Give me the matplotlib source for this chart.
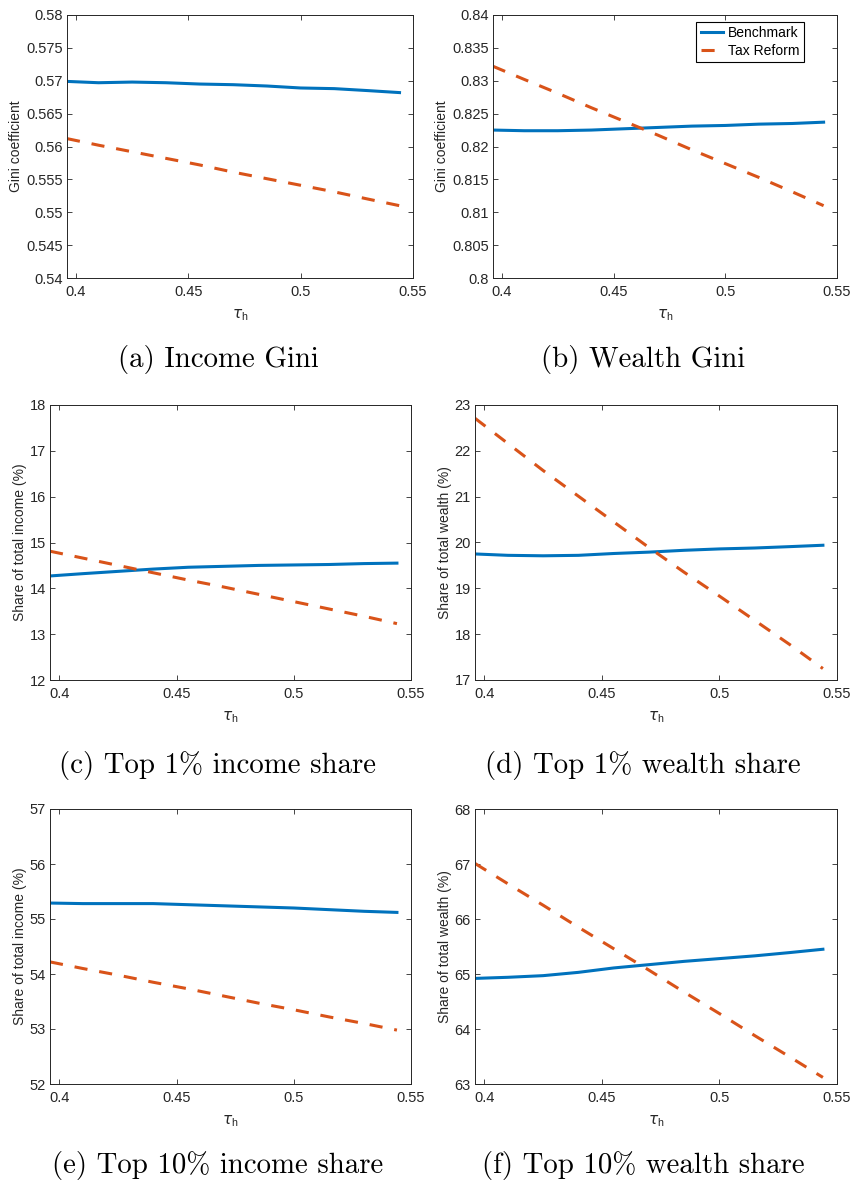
import matplotlib
matplotlib.use('Agg')
import matplotlib.pyplot as plt
from matplotlib.ticker import FuncFormatter

plt.rcParams['font.family'] = ['Liberation Sans', 'DejaVu Sans']
plt.rcParams['mathtext.fontset'] = 'custom'
plt.rcParams['mathtext.rm'] = 'Liberation Sans'
plt.rcParams['mathtext.it'] = 'DejaVu Sans:italic'

# tau_h grid
tau = [0.396, 0.41, 0.425, 0.44, 0.455, 0.47, 0.485, 0.50, 0.515, 0.53, 0.544]

# (a) income Gini
gini_inc_bench = [0.5699, 0.5697, 0.5698, 0.5697, 0.5695, 0.5694, 0.5692, 0.5689, 0.5688, 0.5685, 0.5682]
gini_inc_reform = [0.5612, 0.5602, 0.5592, 0.5582, 0.5572, 0.5561, 0.5551, 0.5541, 0.5531, 0.5520, 0.5510]
# (b) wealth Gini
gini_wlt_bench = [0.8225, 0.8224, 0.8224, 0.8225, 0.8227, 0.8229, 0.8231, 0.8232, 0.8234, 0.8235, 0.8237]
gini_wlt_reform = [0.8322, 0.8302, 0.8281, 0.8259, 0.8238, 0.8217, 0.8195, 0.8174, 0.8153, 0.8131, 0.8110]
# (c) top 1% income share
top1_inc_bench = [14.27, 14.32, 14.37, 14.42, 14.46, 14.48, 14.50, 14.51, 14.52, 14.54, 14.55]
top1_inc_reform = [14.81, 14.66, 14.50, 14.34, 14.18, 14.03, 13.87, 13.71, 13.55, 13.39, 13.23]
# (d) top 1% wealth share
top1_wlt_bench = [19.75, 19.72, 19.71, 19.72, 19.76, 19.79, 19.83, 19.86, 19.88, 19.91, 19.94]
top1_wlt_reform = [22.71, 22.16, 21.57, 21.01, 20.45, 19.89, 19.35, 18.83, 18.30, 17.77, 17.25]
# (e) top 10% income share
top10_inc_bench = [55.29, 55.28, 55.28, 55.28, 55.26, 55.24, 55.22, 55.20, 55.17, 55.14, 55.12]
top10_inc_reform = [54.22, 54.10, 53.98, 53.85, 53.73, 53.60, 53.47, 53.35, 53.22, 53.10, 52.98]
# (f) top 10% wealth share
top10_wlt_bench = [64.92, 64.94, 64.97, 65.03, 65.11, 65.17, 65.23, 65.28, 65.33, 65.39, 65.45]
top10_wlt_reform = [67.01, 66.64, 66.25, 65.85, 65.46, 65.07, 64.67, 64.28, 63.88, 63.49, 63.12]

captions = ['(a) Income Gini', '(b) Wealth Gini',
            '(c) Top 1% income share', '(d) Top 1% wealth share',
            '(e) Top 10% income share', '(f) Top 10% wealth share']
ylabels = ['Gini coefficient', 'Gini coefficient',
           'Share of total income (%)', 'Share of total wealth (%)',
           'Share of total income (%)', 'Share of total wealth (%)']
ylims = [(0.54, 0.58), (0.80, 0.84), (12, 18), (17, 23), (52, 57), (63, 68)]
ysteps = [0.005, 0.005, 1, 1, 1, 1]
series = [(gini_inc_bench, gini_inc_reform), (gini_wlt_bench, gini_wlt_reform),
          (top1_inc_bench, top1_inc_reform), (top1_wlt_bench, top1_wlt_reform),
          (top10_inc_bench, top10_inc_reform), (top10_wlt_bench, top10_wlt_reform)]

W, H = 853, 1187
# axes boxes in pixels: left, top, right, bottom
boxes = [(67, 15, 413, 278), (493, 15, 837, 278),
         (50, 405, 411, 680), (475, 405, 837, 680),
         (50, 809, 411, 1084), (475, 809, 837, 1084)]
cap_pos = [(218, 360), (643, 360), (218, 765), (643, 765), (218, 1166), (643, 1166)]

blue = '#0072BD'
red = '#D95319'
dark = '#262626'

fig = plt.figure(figsize=(W / 100, H / 100), dpi=100)

for i in range(6):
    l, t, r, b = boxes[i]
    ax = fig.add_axes([l / W, 1 - b / H, (r - l) / W, (b - t) / H])
    bench, reform = series[i]
    ax.plot(tau, bench, color=blue, lw=2.2, label='Benchmark')
    ax.plot(tau, reform, color=red, lw=2.2, ls=(0, (4.3, 3.9)), label='Tax Reform')
    ax.set_xlim(0.396, 0.55)
    ax.set_ylim(*ylims[i])
    lo, hi = ylims[i]
    n = int(round((hi - lo) / ysteps[i]))
    ax.set_yticks([lo + k * ysteps[i] for k in range(n + 1)])
    ax.set_xticks([0.4, 0.45, 0.5, 0.55])
    ax.xaxis.set_major_formatter(FuncFormatter(lambda v, p: '%g' % round(v, 4)))
    ax.yaxis.set_major_formatter(FuncFormatter(lambda v, p: '%g' % round(v, 4)))
    ax.tick_params(direction='in', top=True, right=True, length=3.6, width=0.6,
                   color=dark, labelcolor=dark, labelsize=10.5, pad=3)
    ax.tick_params(axis='x', pad=5)
    for s in ax.spines.values():
        s.set_color(dark)
        s.set_linewidth(0.7)
    ax.set_ylabel(ylabels[i], fontsize=10, color=dark, labelpad=2)
    ax.set_xlabel(r'$\tau_{\rm h}$', fontsize=11, color=dark, labelpad=6)
    if i == 1:
        leg = ax.legend(loc='upper right', bbox_to_anchor=(0.904, 0.973), borderaxespad=0,
                        fontsize=10, handlelength=1.6, handletextpad=0.4, borderpad=0.3,
                        labelspacing=0.25, fancybox=False, framealpha=1)
        leg.get_frame().set_edgecolor('black')
        leg.get_frame().set_linewidth(0.8)
    cx, cy = cap_pos[i]
    fig.text(cx / W, 1 - cy / H, captions[i], family='cmr10', fontsize=20.8,
             ha='center', va='center', color='black')

fig.savefig('out.png', dpi=100)
